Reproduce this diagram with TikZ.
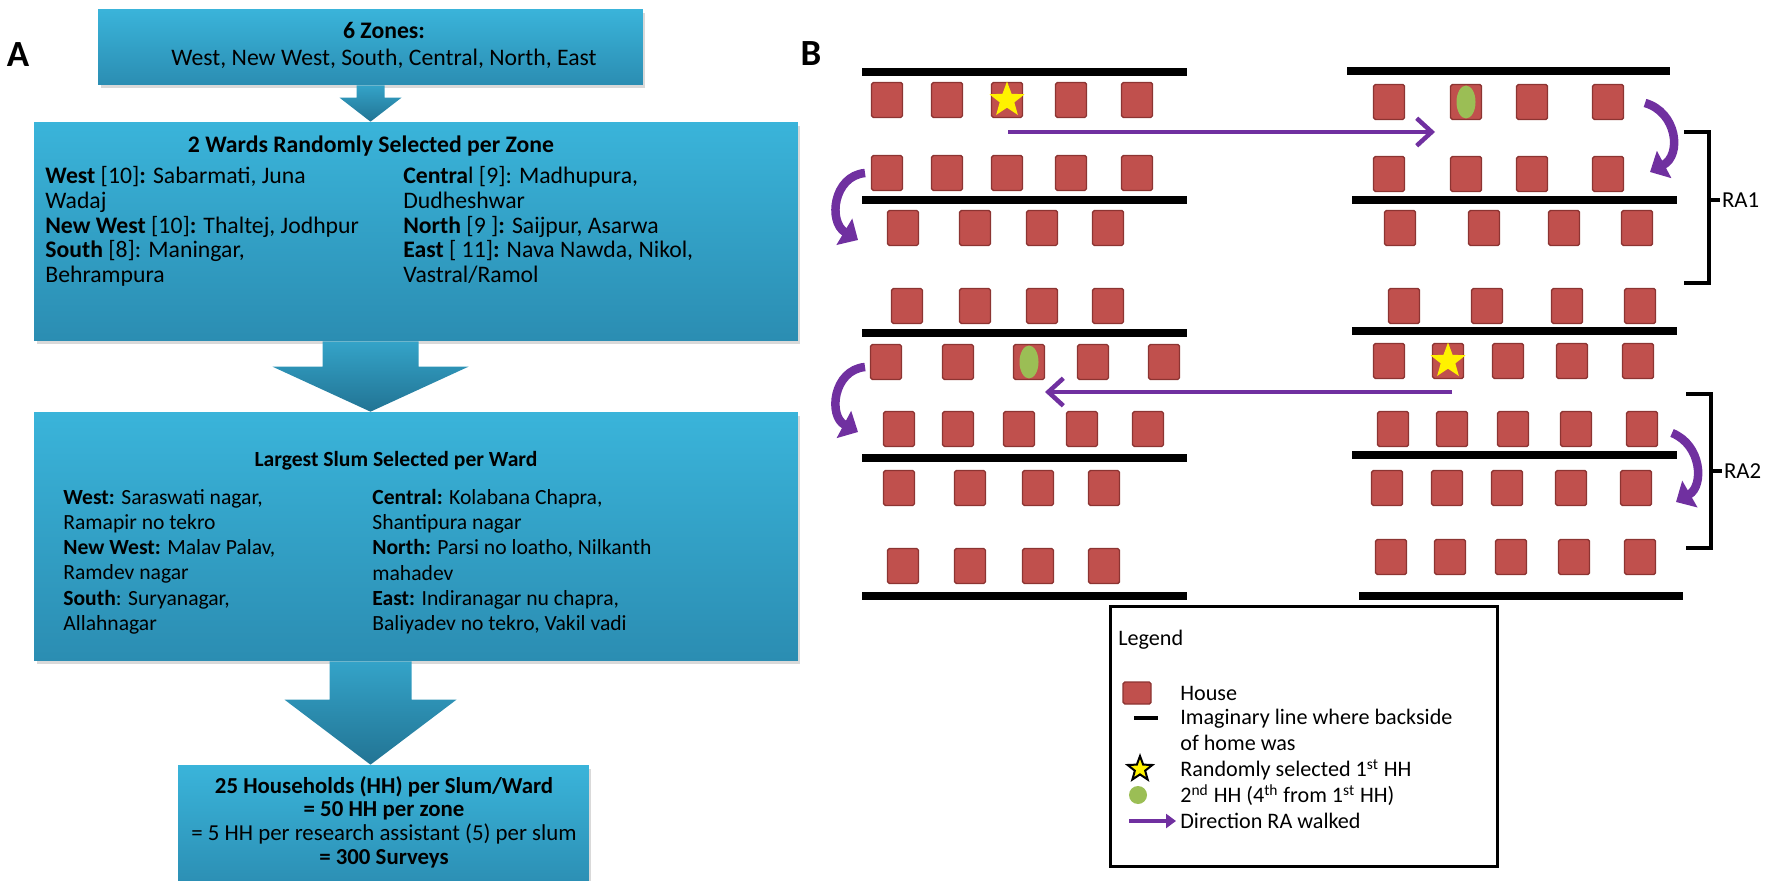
\documentclass[tikz,border=0pt]{standalone}
\usepackage{fontspec}
\setmainfont{Carlito}
\usetikzlibrary{shapes.geometric,  % star, ellipse
                arrows.meta,
                calc,              % coordinates between $ $
                positioning,
                shadows}
\definecolor{boxtop}{RGB}{58,180,218}
\definecolor{boxbot}{RGB}{43,141,178}
\definecolor{arrtop}{RGB}{52,163,200}
\definecolor{arrbot}{RGB}{34,116,148}
\definecolor{housered}{RGB}{192,80,77}
\definecolor{houseedge}{RGB}{140,52,50}
\definecolor{walkpurple}{RGB}{112,48,160}
\definecolor{hhgreen}{RGB}{155,190,85}

\tikzset{
  flowbox/.style={rectangle,inner sep=0,top color=boxtop,bottom color=boxbot,
                  drop shadow={opacity=0.3,shadow xshift=0.05cm,shadow yshift=-0.07cm}},
  txt/.style={inner sep=0,font=\fontsize{13.5}{14.1}\selectfont,align=left},
  slumtxt/.style={inner sep=0,font=\fontsize{12.3}{14.35}\selectfont,align=left},
  legtxt/.style={inner sep=0,font=\fontsize{12.6}{14.7}\selectfont,align=left},
  panellbl/.style={inner sep=0,font=\fontsize{21}{24}\selectfont\bfseries},
  house/.style={rectangle,draw=houseedge,fill=housered,line width=0.8pt,rounded corners=1pt,
                minimum width=0.62cm,minimum height=0.7cm,inner sep=0},
  street/.style={line width=0.16cm},
  walkline/.style={draw=walkpurple,line width=0.09cm,-{Straight Barb[length=0.3cm,width=0.55cm]}},
  uturn/.style={draw=walkpurple,line width=0.17cm,-{Triangle[length=0.32cm,width=0.6cm]}},
  rabrace/.style={line width=0.08cm},
  legbox/.style={draw,line width=0.06cm,inner sep=0}
}
% block arrow: from #1 to tip #2, shaft half width #3, head half width #4, head length #5
\newcommand{\flowarrow}[5]{%
  \shade[top color=arrtop,bottom color=arrbot] ($(#1)+(-#3,0)$) -- ($(#1)+(#3,0)$)
    -- ($(#2)+(#3,-#5)$) -- ($(#2)+(#4,-#5)$) -- (#2) -- ($(#2)+(-#4,-#5)$)
    -- ($(#2)+(-#3,-#5)$) -- cycle;}

\begin{document}
\begin{tikzpicture}[x=0.02cm,y=-0.02cm]
\useasboundingbox (0,0) rectangle (1770,881);

%% A : sampling of slums
\node[panellbl] (lblA) at (18,55) {A};
\node[flowbox,minimum width=10.9cm,minimum height=1.52cm] (zones) at (370.5,47) {};
\node[flowbox,minimum width=15.28cm,minimum height=4.38cm] (wards) at (416,231.5) {};
\node[flowbox,minimum width=15.28cm,minimum height=4.98cm] (slums) at (416,536.5) {};
\node[flowbox,minimum width=8.22cm,minimum height=2.5cm] (hh) at (383.5,827.5) {};

\flowarrow{zones.south}{zones.south |- wards.north}{14}{31}{24}
\flowarrow{zones.south |- wards.south}{zones.south |- slums.north}{48}{98}{45}
\flowarrow{zones.south |- slums.south}{zones.south |- hh.north}{41}{86}{65}

\node[txt,align=center,font=\fontsize{13.5}{15.3}\selectfont] (zonestxt) at (384,45) {\textbf{6 Zones:}\\West, New West, South, Central, North, East};

\node[txt,font=\fontsize{13.5}{14.1}\selectfont\bfseries] (wardtitle) at (371,146) {2 Wards Randomly Selected per Zone};
\node[txt,anchor=north west] (wardleft) at (45,166)
  {\textbf{West} [10]\textbf{:} Sabarmati, Juna\\Wadaj\\\textbf{New West} [10]\textbf{:} Thaltej, Jodhpur\\
   \textbf{South} [8]: Maningar,\\Behrampura};
\node[txt,anchor=north west] (wardright) at (403,166)
  {\textbf{Centra}l [9]: Madhupura,\\Dudheshwar\\\textbf{North} [9 ]\textbf{:} Saijpur, Asarwa\\
   \textbf{East} [ 11]\textbf{:} Nava Nawda, Nikol,\\Vastral/Ramol};

\node[slumtxt,font=\fontsize{12.3}{14.35}\selectfont\bfseries] (slumtitle) at (396,461) {Largest Slum Selected per Ward};
\node[slumtxt,anchor=north west] (slumleft) at (63,489)
  {\textbf{West:} Saraswati nagar,\\Ramapir no tekro\\\textbf{New West:} Malav Palav,\\Ramdev nagar\\
   \textbf{South}: Suryanagar,\\Allahnagar};
\node[slumtxt,anchor=north west] (slumright) at (372,489)
  {\textbf{Central:} Kolabana Chapra,\\Shantipura nagar\\\textbf{North:} Parsi no loatho, Nilkanth\\mahadev\\
   \textbf{East:} Indiranagar nu chapra,\\Baliyadev no tekro, Vakil vadi};

\node[txt,align=center,font=\fontsize{13}{13.4}\selectfont] (hhtxt) at (384,822)
  {\textbf{25 Households (HH) per Slum/Ward}\\\textbf{= 50 HH per zone}\\
   = 5 HH per research assistant (5) per slum\\\textbf{= 300 Surveys}};

%% B : walking pattern
\node[panellbl] (lblB) at (811,54) {B};

% imaginary back lines
\foreach \yy in {72,200,333,458,596}
  \draw[street] (862,\yy) -- (1187,\yy);
\draw[street] (1347,71) -- (1670,71);
\foreach \yy in {200,331,455}
  \draw[street] (1352,\yy) -- (1677,\yy);
\draw[street] (1359,596) -- (1683,596);

% houses
\foreach \yy/\row in {100/{887,947,1007,1071,1137},173/{887,947,1007,1071,1137},
    228/{903,975,1042,1108},306/{907,975,1042,1108},
    362/{886,958,1029,1093,1164},429/{899,958,1019,1082,1148},
    488/{899,970,1038,1104},566/{903,970,1038,1104},
    102/{1389,1466,1532,1608},174/{1389,1466,1532,1608},
    228/{1400,1484,1564,1637},306/{1404,1487,1567,1640},
    361/{1389,1448,1508,1572,1638},429/{1393,1452,1513,1576,1642},
    488/{1387,1447,1507,1571,1636},557/{1391,1450,1511,1574,1640}}
  \foreach \xx in \row
    \node[house] (h-\xx-\yy) at (\xx,\yy) {};

% first and second households
\node[star,star points=5,star point ratio=2.4,fill=yellow,inner sep=0,minimum size=0.74cm] (first1) at (h-1007-100) {};
\node[star,star points=5,star point ratio=2.4,fill=yellow,inner sep=0,minimum size=0.74cm] (first2) at (h-1448-361) {};
\node[ellipse,fill=hhgreen,inner sep=0,minimum width=0.38cm,minimum height=0.66cm] (second1) at (h-1466-102) {};
\node[ellipse,fill=hhgreen,inner sep=0,minimum width=0.38cm,minimum height=0.66cm] (second2) at (h-1029-362) {};

% direction walked
\coordinate (w1a) at (1008,132);
\coordinate (w1b) at (1435,132);
\coordinate (w2a) at (1452,392);
\coordinate (w2b) at (1045,392);
\draw[walkline] (w1a) -- (w1b);
\draw[walkline] (w2a) -- (w2b);

\draw[uturn] (1645,103) .. controls (1677,112) and (1682,155) .. (1650,172);
\draw[uturn] (865,173) .. controls (833,176) and (828,222) .. (858,240);
\draw[uturn] (865,367) .. controls (833,370) and (828,416) .. (858,432);
\draw[uturn] (1672,433) .. controls (1702,445) and (1704,486) .. (1676,502);

% research assistants
\draw[rabrace] (1684,132) -- (1709,132) -- (1709,283) -- (1684,283);
\draw[rabrace] (1709,200) -- (1720,200) node[txt,anchor=west,font=\fontsize{13}{15}\selectfont] (ra1) {RA1};
\draw[rabrace] (1686,394) -- (1711,394) -- (1711,548) -- (1686,548);
\draw[rabrace] (1711,471) -- (1722,471) node[txt,anchor=west,font=\fontsize{13}{15}\selectfont] (ra2) {RA2};

% legend
\node[legbox,minimum width=7.76cm,minimum height=5.22cm] (legend) at (1304,736.5) {};
\node[legtxt,anchor=west] (legtitle) at (1118,640) {Legend};
\node[house,minimum width=0.56cm,minimum height=0.44cm] (leghouse) at (1137,693) {};
\node[legtxt,anchor=west] (legtxt1) at (1180,693) {House};
\draw[line width=0.07cm] (1134,718) -- (1158,718);
\node[legtxt,anchor=north west] (legtxt2) at (1180,709) {Imaginary line where backside\\of home was};
\node[star,star points=5,star point ratio=2.4,draw=black,line width=0.04cm,fill=yellow,inner sep=0,minimum size=0.52cm] (legstar) at (1140,769) {};
\node[legtxt,anchor=west] (legtxt3) at (1180,770) {Randomly selected 1\textsuperscript{st} HH};
\node[circle,fill=hhgreen,inner sep=0,minimum size=0.36cm] (legdot) at (1138,795) {};
\node[legtxt,anchor=west] (legtxt4) at (1180,795) {2\textsuperscript{nd} HH (4\textsuperscript{th} from 1\textsuperscript{st} HH)};
\coordinate (lw1) at (1129,821);
\coordinate (lw2) at (1176,821);
\draw[draw=walkpurple,line width=0.07cm,-{Triangle[length=0.2cm,width=0.28cm]}] (lw1) -- (lw2);
\node[legtxt,anchor=west] (legtxt5) at (1180,821) {Direction RA walked};
\end{tikzpicture}
\end{document}
